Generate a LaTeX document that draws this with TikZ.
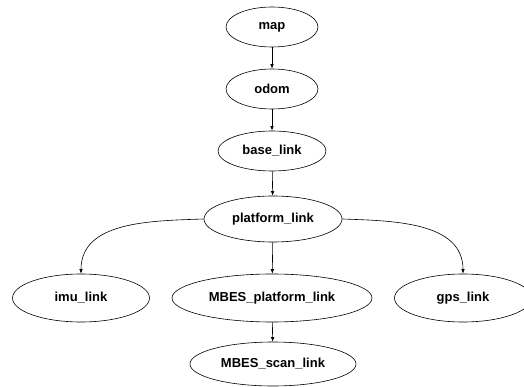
\documentclass[tikz,border=0pt]{standalone}
\usepackage{fontspec}
\setmainfont{Liberation Sans}
\usetikzlibrary{shapes.geometric,arrows.meta}
\tikzset{
  frame/.style={ellipse,draw,line width=0.6pt,inner sep=0pt,font=\fontsize{13}{15}\selectfont\bfseries},
  tf/.style={line width=0.6pt,-{Latex[length=4.5pt,width=3.5pt]}}
}
\begin{document}
\begin{tikzpicture}[x=1pt,y=-1pt]
  \clip (0,0) rectangle (524,387);
  \node[frame,minimum width=92pt,minimum height=40pt] (map) at (272,27) {map};
  \node[frame,minimum width=92pt,minimum height=40pt] (odom) at (272,89) {odom};
  \node[frame,minimum width=108pt,minimum height=40pt] (base) at (272,151) {base\_link};
  \node[frame,minimum width=138pt,minimum height=46pt] (platform) at (273,219) {platform\_link};
  \node[frame,minimum width=137pt,minimum height=48pt] (imu) at (81,298) {imu\_link};
  \node[frame,minimum width=200pt,minimum height=48pt] (mbesplat) at (272,298) {MBES\_platform\_link};
  \node[frame,minimum width=137pt,minimum height=48pt] (gps) at (463,298) {gps\_link};
  \node[frame,minimum width=166pt,minimum height=44pt] (mbesscan) at (273,364) {MBES\_scan\_link};
  \draw[tf] (map) -- (odom);
  \draw[tf] (odom) -- (base);
  \draw[tf] (base) -- (platform);
  \draw[tf] (platform.west) to[out=182,in=90] (imu.north);
  \draw[tf] (platform) -- (mbesplat);
  \draw[tf] (platform.east) to[out=-2,in=90] (gps.north);
  \draw[tf] (mbesplat) -- (mbesscan);
\end{tikzpicture}
\end{document}
